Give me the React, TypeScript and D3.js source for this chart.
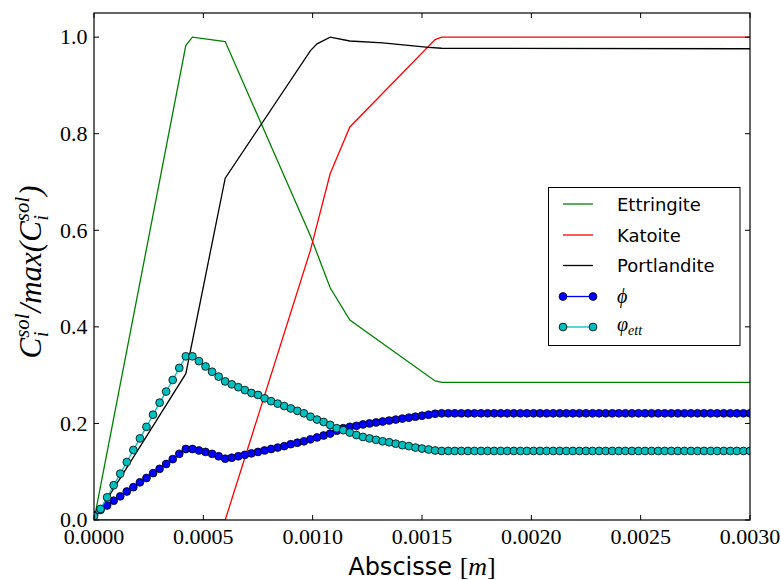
import React from 'react';
import * as d3 from 'd3';

// ---------- DATA ----------
const xTicks = [0, 0.0005, 0.001, 0.0015, 0.002, 0.0025, 0.003];
const xTickLabels = ['0.0000', '0.0005', '0.0010', '0.0015', '0.0020', '0.0025', '0.0030'];
const yTicks = [0, 0.2, 0.4, 0.6, 0.8, 1.0];
const yTickLabels = ['0.0', '0.2', '0.4', '0.6', '0.8', '1.0'];

const ettringiteX = [0, 0.00042, 0.00045, 0.0006, 0.00099, 0.00108, 0.00117, 0.00156, 0.00159, 0.003];
const ettringiteY = [0, 0.983, 1.0, 0.991, 0.588, 0.481, 0.414, 0.288, 0.285, 0.285];

const katoiteX = [0, 0.0006, 0.00099, 0.00108, 0.00117, 0.00156, 0.00159, 0.003];
const katoiteY = [0, 0, 0.559, 0.717, 0.814, 0.995, 1.0, 1.0];

const portlanditeX = [0, 0.00042, 0.0006, 0.00099, 0.00102, 0.00108, 0.00117, 0.00132, 0.00153, 0.00159, 0.003];
const portlanditeY = [0, 0.303, 0.708, 0.972, 0.986, 1.0, 0.992, 0.988, 0.979, 0.977, 0.976];

const nodeStep = 0.00003;
const phiValues = [
  0.010, 0.021, 0.030, 0.040, 0.049, 0.059, 0.068, 0.078, 0.087, 0.097, 0.106, 0.116, 0.126, 0.137, 0.147, 0.147,
  0.144, 0.141, 0.137, 0.132, 0.127,
  0.129, 0.132, 0.135, 0.138, 0.141, 0.144, 0.147, 0.150, 0.153, 0.157, 0.160, 0.163, 0.167, 0.171, 0.175, 0.179, 0.185, 0.190,
  0.193, 0.195, 0.198, 0.200, 0.202, 0.204, 0.206, 0.208, 0.210, 0.212, 0.214, 0.216, 0.218, 0.220,
  0.221, 0.221, 0.221, 0.221, 0.221, 0.221, 0.221, 0.221, 0.221, 0.221, 0.221, 0.221,
  0.221, 0.221, 0.221, 0.221, 0.221, 0.221, 0.221, 0.221, 0.221, 0.221, 0.221, 0.221,
  0.221, 0.221, 0.221, 0.221, 0.221, 0.221, 0.221, 0.221, 0.221, 0.221, 0.221, 0.221,
  0.221, 0.221, 0.221, 0.221, 0.221, 0.221, 0.221, 0.221, 0.221, 0.221, 0.221, 0.221,
];
const phiEttValues = [
  0.008, 0.023, 0.047, 0.072, 0.096, 0.120, 0.145, 0.169, 0.193, 0.218, 0.243, 0.266, 0.290, 0.315, 0.339, 0.339,
  0.329, 0.318, 0.307, 0.297, 0.287,
  0.281, 0.275, 0.269, 0.263, 0.259, 0.252, 0.246, 0.241, 0.236, 0.231, 0.226, 0.221, 0.214, 0.208, 0.203, 0.197, 0.190, 0.186,
  0.181, 0.176, 0.172, 0.169, 0.166, 0.163, 0.161, 0.158, 0.155, 0.153, 0.150, 0.148, 0.146, 0.144,
  0.143, 0.143, 0.143, 0.143, 0.143, 0.143, 0.143, 0.143, 0.143, 0.143, 0.143, 0.143,
  0.143, 0.143, 0.143, 0.143, 0.143, 0.143, 0.143, 0.143, 0.143, 0.143, 0.143, 0.143,
  0.143, 0.143, 0.143, 0.143, 0.143, 0.143, 0.143, 0.143, 0.143, 0.143, 0.143, 0.143,
  0.143, 0.143, 0.143, 0.143, 0.143, 0.143, 0.143, 0.143, 0.143, 0.143, 0.143, 0.143,
];

// ---------- LAYOUT ----------
const W = 781, H = 580;
const L = 94, R = 750, T = 13, B = 520;
const SERIF = '"Liberation Serif", "Times New Roman", monospace';
const SANS = '"DejaVu Sans", sans-serif';

const GREEN = '#008000', RED = '#ff0000', BLUE = '#0000ff', CYAN = '#00bfbf';
const MR = 3.9;

export default function App() {
  const x = d3.scaleLinear().domain([0, 0.003]).range([L, R]);
  const y = d3.scaleLinear().domain([0, 1.05]).range([B, T]);
  const line = d3.line<[number, number]>().x(d => x(d[0])).y(d => y(d[1]));

  const zip = (xs: number[], ys: number[]) => xs.map((v, i) => [v, ys[i]] as [number, number]);
  const phiPts = phiValues.map((v, i) => [i * nodeStep, v] as [number, number]);
  const phiEttPts = phiEttValues.map((v, i) => [i * nodeStep, v] as [number, number]);

  const tickLen = 5;
  const legendRows = [204, 235, 265.5, 296.5, 327];
  const lx0 = 563, lx1 = 593, tx = 617;
  const serif = { fontFamily: SERIF };
  const serifI = { fontFamily: SERIF, fontStyle: 'italic' as const };
  const sans = { fontFamily: SANS };

  return (
    <svg width={W} height={H} style={{ position: 'fixed', left: 0, top: 0, background: '#fff' }}>
      <defs>
        <clipPath id="plot">
          <rect x={L} y={T} width={R - L} height={B - T} />
        </clipPath>
      </defs>
      <rect x={0} y={0} width={W} height={H} fill="#fff" />
      <g clipPath="url(#plot)" fill="none" strokeWidth={1.3}>
        <path d={line(zip(ettringiteX, ettringiteY)) || ''} stroke={GREEN} />
        <path d={line(zip(katoiteX, katoiteY)) || ''} stroke={RED} />
        <path d={line(zip(portlanditeX, portlanditeY)) || ''} stroke="#000" />
        <path d={line(phiPts) || ''} stroke={BLUE} />
        {phiPts.map((p, i) => (
          <circle key={'b' + i} cx={x(p[0])} cy={y(p[1])} r={MR} fill={BLUE} stroke="#000" strokeWidth={0.8} />
        ))}
        <path d={line(phiEttPts) || ''} stroke={CYAN} />
        {phiEttPts.map((p, i) => (
          <circle key={'c' + i} cx={x(p[0])} cy={y(p[1])} r={MR} fill={CYAN} stroke="#000" strokeWidth={0.8} />
        ))}
      </g>

      {/* ticks */}
      <g stroke="#000" strokeWidth={1}>
        {xTicks.map((t, i) => (
          <g key={'xt' + i}>
            <line x1={x(t)} x2={x(t)} y1={B} y2={B - tickLen} />
            <line x1={x(t)} x2={x(t)} y1={T} y2={T + tickLen} />
          </g>
        ))}
        {yTicks.map((t, i) => (
          <g key={'yt' + i}>
            <line x1={L} x2={L + tickLen} y1={y(t)} y2={y(t)} />
            <line x1={R} x2={R - tickLen} y1={y(t)} y2={y(t)} />
          </g>
        ))}
      </g>
      <rect x={L} y={T} width={R - L} height={B - T} fill="none" stroke="#000" strokeWidth={1.2} />

      {/* tick labels */}
      {xTicks.map((t, i) => (
        <text key={'xl' + i} style={serif} fontSize={22} fill="#000" x={x(t)} y={544} textAnchor="middle">{xTickLabels[i]}</text>
      ))}
      {yTicks.map((t, i) => (
        <text key={'yl' + i} style={serif} fontSize={22} fill="#000" x={87.5} y={y(t) + 7.3} textAnchor="end">{yTickLabels[i]}</text>
      ))}

      {/* x label */}
      <text x={422} y={575} textAnchor="middle" fontSize={24} fill="#000" style={sans}>
        <tspan style={sans}>Abscisse </tspan>
        <tspan style={serif} fontSize={26}>[</tspan>
        <tspan style={serifI} fontSize={26}>m</tspan>
        <tspan style={serif} fontSize={26}>]</tspan>
      </text>

      {/* y label */}
      <g transform="translate(30,272) rotate(-90)">
        <text x={0} y={11} textAnchor="middle" style={serifI} fontSize={31} fill="#000">
          <tspan style={serifI}>C</tspan>
          <tspan style={serifI} fontSize={21} dy={-12}>sol</tspan>
          <tspan style={serifI} fontSize={21} dx={-24} dy={19}>i</tspan>
          <tspan style={serif} dx={19} dy={-7}>/</tspan>
          <tspan style={serifI}>max</tspan>
          <tspan style={serif}>(</tspan>
          <tspan style={serifI}>C</tspan>
          <tspan style={serifI} fontSize={21} dy={-12}>sol</tspan>
          <tspan style={serifI} fontSize={21} dx={-24} dy={19}>i</tspan>
          <tspan style={serif} dx={19} dy={-7}>)</tspan>
        </text>
      </g>

      {/* legend */}
      <rect x={548.5} y={187.5} width={191.5} height={158} fill="#fff" stroke="#000" strokeWidth={1} />
      <g strokeWidth={1.3}>
        <line x1={lx0} x2={lx1} y1={legendRows[0]} y2={legendRows[0]} stroke={GREEN} />
        <line x1={lx0} x2={lx1} y1={legendRows[1]} y2={legendRows[1]} stroke={RED} />
        <line x1={lx0} x2={lx1} y1={legendRows[2]} y2={legendRows[2]} stroke="#000" />
        <line x1={lx0} x2={lx1} y1={legendRows[3]} y2={legendRows[3]} stroke={BLUE} />
        <line x1={lx0} x2={lx1} y1={legendRows[4]} y2={legendRows[4]} stroke={CYAN} />
      </g>
      {[lx0, lx1].map((cx, i) => (
        <g key={'lm' + i}>
          <circle cx={cx} cy={legendRows[3]} r={MR} fill={BLUE} stroke="#000" strokeWidth={0.8} />
          <circle cx={cx} cy={legendRows[4]} r={MR} fill={CYAN} stroke="#000" strokeWidth={0.8} />
        </g>
      ))}
      <text x={tx} y={legendRows[0] + 6.5} style={sans} fontSize={18} fill="#000">Ettringite</text>
      <text x={tx} y={legendRows[1] + 6.5} style={sans} fontSize={18} fill="#000">Katoite</text>
      <text x={tx} y={legendRows[2] + 6.5} style={sans} fontSize={18} fill="#000">Portlandite</text>
      <text x={tx} y={legendRows[3] + 6} style={serifI} fontSize={20} fill="#000">ϕ</text>
      <text x={tx} y={legendRows[4] + 4} style={serifI} fontSize={20} fill="#000">
        φ<tspan style={serifI} fontSize={14} dy={4}>ett</tspan>
      </text>
    </svg>
  );
}
